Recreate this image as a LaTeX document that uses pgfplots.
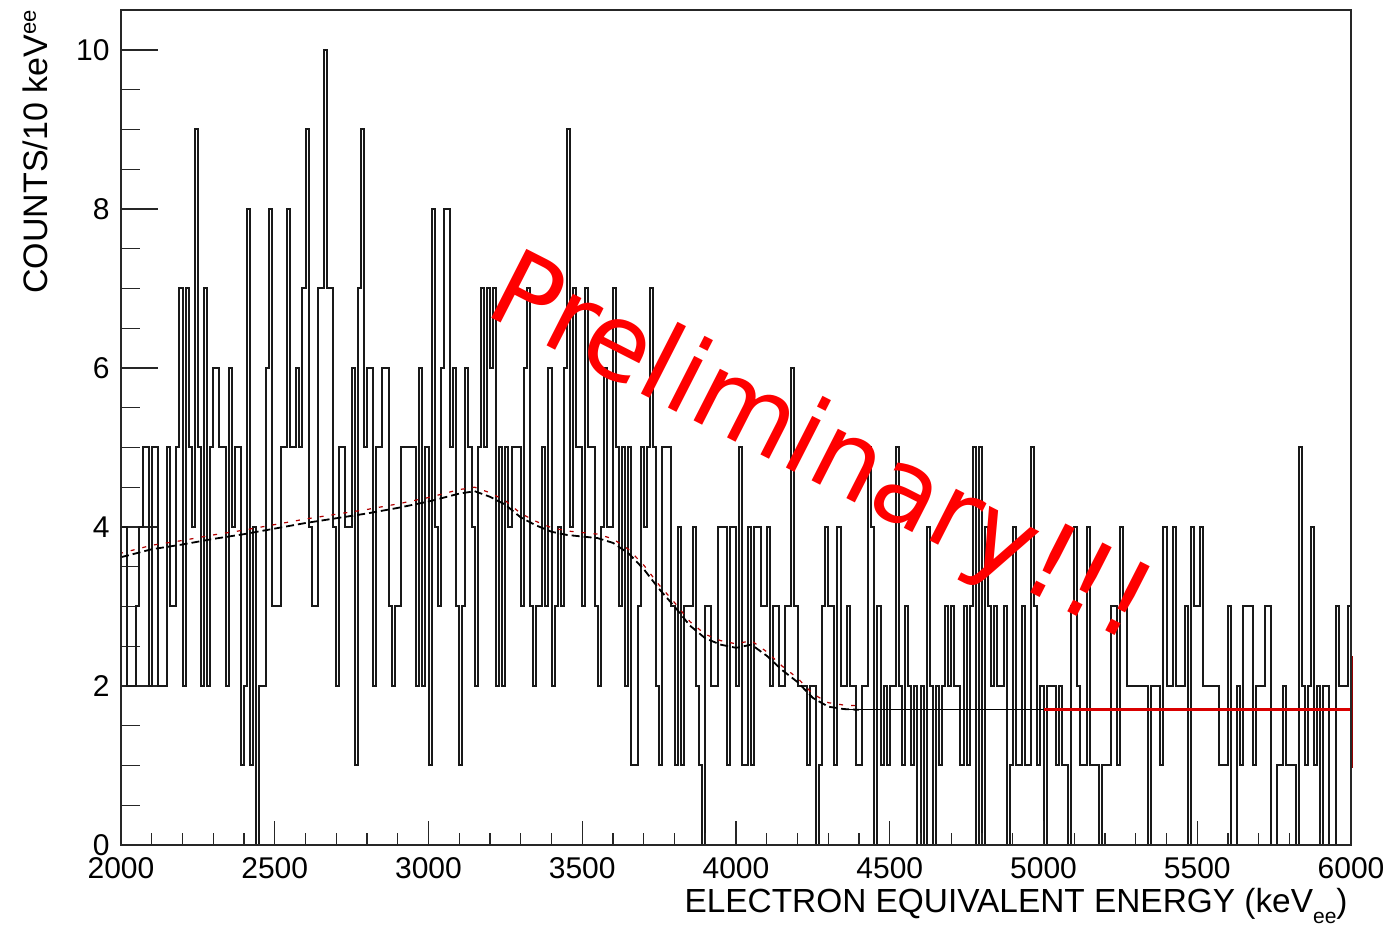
\documentclass[border=0pt]{standalone}
\usepackage{fontspec}
\setmainfont{Liberation Sans}
\newfontfamily\dejavu{DejaVu Sans}
\usepackage{pgfplots}
\pgfplotsset{compat=1.18}
\begin{document}
\begin{tikzpicture}
\pgfplotsset{
  common/.style={
    scale only axis, width=615pt, height=417.5pt,
    xmin=2000, xmax=6000, ymin=0, ymax=10.503,
    axis line style={black!85, line width=0.8pt},
    tick align=inside,
    tick style={black!85, line width=0.7pt},
    /pgf/number format/assume math mode=true,
    /pgf/number format/1000 sep={},
    tick label style={font=\fontsize{15}{18}\selectfont},
    clip=false,
  }
}
\begin{axis}[common,
  xtick=\empty,
  ytick={0,2,4,6,8,10}, minor y tick num=3,
  ytick pos=left,
  major tick length=18.5pt, minor tick length=9.5pt,
  yticklabel style={anchor=east, inner sep=0pt, xshift=-5.5pt},
]
\addplot[const plot mark left, black!90, line width=1.0pt, mark=none] coordinates {
(2000,4)(2010,4)(2020,2)(2030,2)(2040,2)(2050,3)(2060,4)(2070,5)(2080,5)(2090,2)
(2100,5)(2110,5)(2120,2)(2130,2)(2140,2)(2150,5)(2160,3)(2170,3)(2180,5)(2190,7)
(2200,2)(2210,7)(2220,5)(2230,4)(2240,9)(2250,5)(2260,2)(2270,7)(2280,2)(2290,5)
(2300,6)(2310,6)(2320,5)(2330,5)(2340,2)(2350,6)(2360,4)(2370,5)(2380,5)(2390,1)
(2400,2)(2410,8)(2420,1)(2430,4)(2440,0)(2450,2)(2460,2)(2470,6)(2480,8)(2490,3)
(2500,3)(2510,3)(2520,5)(2530,5)(2540,8)(2550,5)(2560,5)(2570,6)(2580,5)(2590,7)
(2600,9)(2610,4)(2620,3)(2630,3)(2640,7)(2650,7)(2660,10)(2670,7)(2680,7)(2690,4)
(2700,2)(2710,5)(2720,5)(2730,4)(2740,4)(2750,6)(2760,1)(2770,7)(2780,9)(2790,5)
(2800,6)(2810,6)(2820,2)(2830,5)(2840,5)(2850,6)(2860,6)(2870,3)(2880,2)(2890,3)
(2900,3)(2910,5)(2920,5)(2930,5)(2940,5)(2950,5)(2960,2)(2970,6)(2980,2)(2990,5)
(3000,1)(3010,8)(3020,4)(3030,3)(3040,6)(3050,8)(3060,8)(3070,5)(3080,6)(3090,3)
(3100,1)(3110,3)(3120,6)(3130,5)(3140,4)(3150,2)(3160,5)(3170,7)(3180,5)(3190,7)
(3200,6)(3210,7)(3220,2)(3230,5)(3240,2)(3250,5)(3260,4)(3270,5)(3280,5)(3290,5)
(3300,3)(3310,6)(3320,7)(3330,3)(3340,2)(3350,3)(3360,3)(3370,5)(3380,3)(3390,6)
(3400,2)(3410,3)(3420,4)(3430,3)(3440,6)(3450,9)(3460,4)(3470,7)(3480,5)(3490,5)
(3500,3)(3510,7)(3520,5)(3530,5)(3540,3)(3550,2)(3560,4)(3570,6)(3580,4)(3590,4)
(3600,7)(3610,5)(3620,3)(3630,5)(3640,2)(3650,5)(3660,1)(3670,1)(3680,3)(3690,5)
(3700,4)(3710,5)(3720,7)(3730,5)(3740,2)(3750,1)(3760,5)(3770,5)(3780,5)(3790,3)
(3800,1)(3810,4)(3820,1)(3830,3)(3840,3)(3850,3)(3860,4)(3870,2)(3880,1)(3890,0)
(3900,3)(3910,3)(3920,2)(3930,2)(3940,4)(3950,4)(3960,4)(3970,1)(3980,4)(3990,4)
(4000,2)(4010,5)(4020,1)(4030,1)(4040,4)(4050,1)(4060,4)(4070,4)(4080,3)(4090,3)
(4100,4)(4110,2)(4120,3)(4130,3)(4140,2)(4150,2)(4160,3)(4170,3)(4180,6)(4190,3)
(4200,2)(4210,2)(4220,2)(4230,1)(4240,2)(4250,2)(4260,0)(4270,1)(4280,3)(4290,4)
(4300,3)(4310,3)(4320,1)(4330,4)(4340,2)(4350,2)(4360,3)(4370,2)(4380,2)(4390,1)
(4400,1)(4410,2)(4420,2)(4430,5)(4440,4)(4450,0)(4460,3)(4470,1)(4480,2)(4490,1)
(4500,2)(4510,2)(4520,5)(4530,2)(4540,1)(4550,3)(4560,2)(4570,1)(4580,2)(4590,0)
(4600,2)(4610,0)(4620,4)(4630,2)(4640,0)(4650,2)(4660,1)(4670,2)(4680,3)(4690,2)
(4700,3)(4710,2)(4720,2)(4730,1)(4740,3)(4750,1)(4760,3)(4770,5)(4780,0)(4790,5)
(4800,0)(4810,4)(4820,3)(4830,2)(4840,3)(4850,2)(4860,2)(4870,3)(4880,0)(4890,1)
(4900,4)(4910,1)(4920,1)(4930,3)(4940,1)(4950,1)(4960,5)(4970,3)(4980,1)(4990,2)
(5000,0)(5010,2)(5020,2)(5030,2)(5040,1)(5050,2)(5060,1)(5070,1)(5080,0)(5090,3)
(5100,4)(5110,2)(5120,1)(5130,1)(5140,4)(5150,1)(5160,1)(5170,1)(5180,0)(5190,1)
(5200,1)(5210,1)(5220,3)(5230,3)(5240,1)(5250,4)(5260,3)(5270,2)(5280,2)(5290,2)
(5300,2)(5310,2)(5320,2)(5330,2)(5340,0)(5350,2)(5360,2)(5370,2)(5380,1)(5390,4)
(5400,2)(5410,2)(5420,4)(5430,2)(5440,2)(5450,2)(5460,3)(5470,0)(5480,4)(5490,3)
(5500,3)(5510,4)(5520,2)(5530,2)(5540,2)(5550,2)(5560,2)(5570,1)(5580,1)(5590,1)
(5600,3)(5610,0)(5620,0)(5630,2)(5640,1)(5650,3)(5660,3)(5670,3)(5680,1)(5690,2)
(5700,2)(5710,2)(5720,3)(5730,3)(5740,0)(5750,0)(5760,1)(5770,1)(5780,2)(5790,1)
(5800,1)(5810,1)(5820,0)(5830,5)(5840,2)(5850,1)(5860,2)(5870,4)(5880,1)(5890,2)
(5900,0)(5910,2)(5920,2)(5930,0)(5940,0)(5950,3)(5960,2)(5970,2)(5980,2)(5990,3)(6000,3)
};
\addplot[black, line width=0.9pt, dash pattern=on 4pt off 2pt, mark=none] coordinates {
(2000,3.62)(2100,3.72)(2200,3.78)(2300,3.85)(2400,3.91)(2500,3.98)(2600,4.05)(2700,4.11)
(2800,4.17)(2900,4.24)(3000,4.32)(3100,4.42)(3150,4.45)(3200,4.38)(3250,4.28)(3300,4.12)
(3350,4.02)(3400,3.94)(3450,3.9)(3500,3.88)(3550,3.86)(3600,3.8)(3650,3.67)(3700,3.47)
(3750,3.22)(3800,3.0)(3850,2.76)(3900,2.6)(3950,2.52)(4000,2.48)(4050,2.52)(4100,2.38)
(4150,2.2)(4200,2.05)(4250,1.85)(4300,1.74)(4350,1.71)(4400,1.70)
};
\addplot[red!70!black, line width=0.6pt, dash pattern=on 2pt off 4pt, dash phase=1pt, yshift=2pt, mark=none] coordinates {
(2000,3.62)(2100,3.72)(2200,3.78)(2300,3.85)(2400,3.91)(2500,3.98)(2600,4.05)(2700,4.11)
(2800,4.17)(2900,4.24)(3000,4.32)(3100,4.42)(3150,4.45)(3200,4.38)(3250,4.28)(3300,4.12)
(3350,4.02)(3400,3.94)(3450,3.9)(3500,3.88)(3550,3.86)(3600,3.8)(3650,3.67)(3700,3.47)
(3750,3.22)(3800,3.0)(3850,2.76)(3900,2.6)(3950,2.52)(4000,2.48)(4050,2.52)(4100,2.38)
(4150,2.2)(4200,2.05)(4250,1.85)(4300,1.74)(4350,1.71)(4400,1.70)
};
\addplot[black, line width=0.6pt, mark=none] coordinates {(4350,1.70)(6000,1.70)};
\addplot[red!85!black, line width=1.6pt, mark=none] coordinates {(5000,1.70)(6000,1.70)};
\addplot[red!60!black, line width=1.5pt, mark=none] coordinates {(6000,0.97)(6000,2.38)};
\node[rotate=-27, anchor=base west, inner sep=0pt, text=red,
      font=\dejavu\fontsize{53}{60}\selectfont] at (axis cs:3175,6.69) {Preliminary!!!};
\end{axis}
\begin{axis}[common,
  ytick=\empty,
  xtick={2000,2500,...,6000}, minor x tick num=4,
  xtick pos=left,
  major tick length=11.8pt, minor tick length=6pt,
  xticklabel style={anchor=north, inner sep=0pt, yshift=-6pt},
]
\end{axis}
\node[rotate=90, anchor=base east, inner sep=0pt, font=\fontsize{17}{20}\selectfont]
  at ([shift={(-36.5pt,0pt)}]current axis.north west)
  {COUNTS/10 keV\raisebox{6pt}{\fontsize{11}{11}\selectfont ee}};
\node[anchor=base east, inner sep=0pt, font=\fontsize{16.7}{20}\selectfont]
  at ([shift={(-1.5pt,-33.5pt)}]current axis.south east)
  {ELECTRON EQUIVALENT ENERGY (keV\raisebox{-5.5pt}{\fontsize{10.5}{11}\selectfont ee})};
\pgfresetboundingbox
\path[use as bounding box] ([shift={(-60.5pt,-40pt)}]current axis.south west) rectangle ([shift={(19.5pt,5pt)}]current axis.north east);
\end{tikzpicture}
\end{document}
